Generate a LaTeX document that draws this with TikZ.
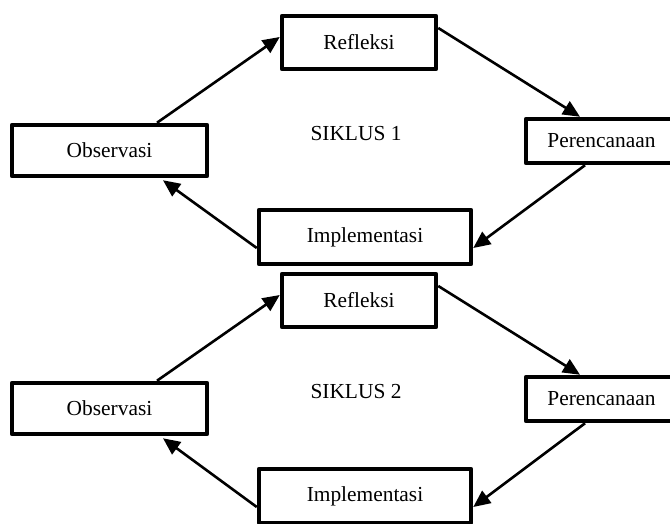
\documentclass[tikz,border=0pt]{standalone}
\usepackage{fontspec}
\setmainfont{Liberation Serif}
\usetikzlibrary{calc,arrows.meta}
\begin{document}
\begin{tikzpicture}[x=1pt,y=-1pt,
  stage/.style={draw=black,line width=4.5pt,line join=round,fill=white,inner sep=0pt,
    font=\fontsize{21.4}{24}\selectfont},
  label/.style={font=\fontsize{21.4}{24}\selectfont},
  flow/.style={line width=2.6pt,-{Triangle[length=17pt,width=15pt]}}]
\clip (0,0) rectangle (670,524);
\fill[white] (0,0) rectangle (670,524);
% cycle 1
\node[stage,minimum width=154pt,minimum height=53pt] (ref1) at (359,42.5) {Refleksi};
\node[stage,minimum width=195pt,minimum height=51pt] (obs1) at (109.5,150.5) {Observasi};
\node[stage,minimum width=151pt,minimum height=44pt] (per1) at (601.5,141) {Perencanaan};
\node[stage,minimum width=212pt,minimum height=54pt] (imp1) at (365,237) {Implementasi};
\node[label] (sik1) at (356,134) {SIKLUS 1};
\draw[flow] ($(obs1.north)+(47.5,0)$) -- ($(ref1.west)+(0,-5.5)$);
\draw[flow] ($(ref1.east)+(0,-14.5)$) -- ($(per1.north)+(-21.5,0)$);
\draw[flow] ($(per1.south)+(-16.5,0)$) -- ($(imp1.east)+(0,11)$);
\draw[flow] ($(imp1.west)+(0,11)$) -- ($(obs1.south)+(53.5,2)$);
% cycle 2
\node[stage,minimum width=154pt,minimum height=53pt] (ref2) at (359,300.5) {Refleksi};
\node[stage,minimum width=195pt,minimum height=51pt] (obs2) at (109.5,408.5) {Observasi};
\node[stage,minimum width=151pt,minimum height=44pt] (per2) at (601.5,399) {Perencanaan};
\node[stage,minimum width=212pt,minimum height=54pt] (imp2) at (365,496) {Implementasi};
\node[label] (sik2) at (356,392) {SIKLUS 2};
\draw[flow] ($(obs2.north)+(47.5,0)$) -- ($(ref2.west)+(0,-5.5)$);
\draw[flow] ($(ref2.east)+(0,-14.5)$) -- ($(per2.north)+(-21.5,0)$);
\draw[flow] ($(per2.south)+(-16.5,0)$) -- ($(imp2.east)+(0,11)$);
\draw[flow] ($(imp2.west)+(0,11)$) -- ($(obs2.south)+(53.5,2)$);
\end{tikzpicture}
\end{document}
